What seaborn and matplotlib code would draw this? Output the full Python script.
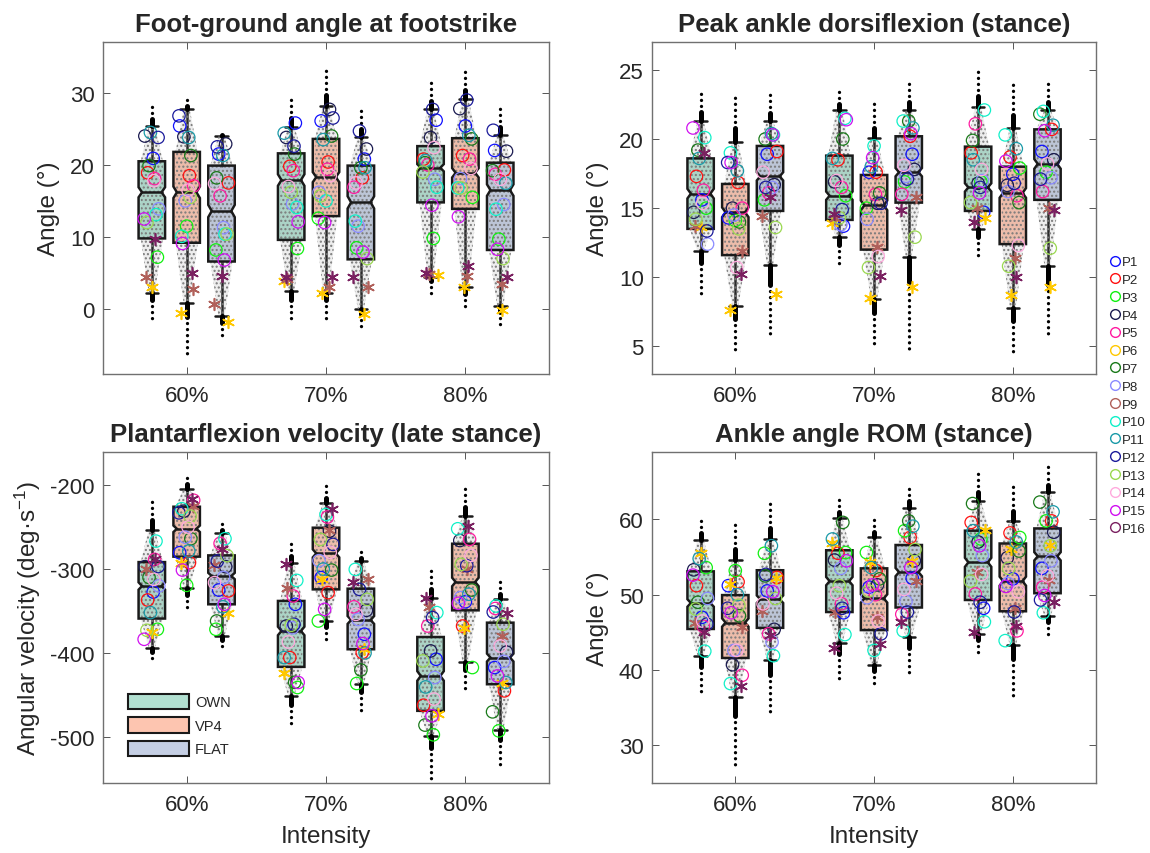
import matplotlib
matplotlib.use("Agg")
import matplotlib.pyplot as plt
from matplotlib.colors import to_rgba
from matplotlib.patches import Polygon, Patch
from matplotlib.lines import Line2D
import numpy as np
import pandas as pd
import seaborn as sns

sns.set_theme(style="white")
plt.rcParams["font.family"] = ["Liberation Sans", "DejaVu Sans"]
plt.rcParams["mathtext.fontset"] = "custom"
plt.rcParams["mathtext.rm"] = "Liberation Sans"
plt.rcParams["mathtext.it"] = "Liberation Sans:italic"
plt.rcParams["hatch.linewidth"] = 1.0
plt.rcParams["axes.unicode_minus"] = False

# ---------------------------------------------------------------- categories
intensities = ["60%", "70%", "80%"]
shoes = ["OWN", "VP4", "FLAT"]
participants = [f"P{i}" for i in range(1, 17)]
participant_colors = ["#1010ff", "#ff1010", "#10f010", "#1a1a50", "#ff1aa0",
                      "#ffc800", "#1a7a1a", "#8a8aff", "#b0605a", "#10f0c8",
                      "#1a9aa8", "#1a1a9a", "#9ad850", "#ffaadd", "#d010f0",
                      "#7a2060"]
star_participants = ["P6", "P9", "P16"]
shoe_colors = ["#66c2a5", "#fc8d62", "#8da0cb"]

# Box summaries, ordered 60/OWN, 60/VP4, 60/FLAT, 70/OWN, ..., 80/FLAT
fga_q1 = [9.8, 9.2, 6.6, 9.6, 12.9, 6.9, 14.8, 13.9, 8.2]
fga_med = [16.2, 16.2, 13.6, 17.9, 18.3, 14.8, 19.6, 18.9, 16.5]
fga_q3 = [20.5, 21.8, 19.9, 21.6, 23.6, 19.9, 22.6, 23.7, 20.3]
fga_wlo = [2.3, 0.9, -1.0, 2.5, 2.3, 0.0, 4.5, 3.0, 0.4]
fga_whi = [25.4, 27.7, 24.0, 25.3, 28.2, 23.9, 27.7, 29.2, 24.2]
fga_min = [-1.4, -6.2, -4.2, -1.8, -1.4, -2.5, 2.1, 0.0, -2.5]
fga_max = [28.6, 29.5, 24.7, 29.8, 33.7, 27.8, 31.9, 33.3, 28.2]
fga_notch = [0.7, 0.8, 0.85, 0.8, 0.7, 0.85, 0.5, 0.65, 0.8]

pad_q1 = [13.5, 11.6, 14.8, 14.15, 12.0, 15.4, 14.8, 12.4, 15.6]
pad_med = [16.05, 14.7, 17.3, 15.9, 15.2, 17.6, 16.5, 16.1, 18.2]
pad_q3 = [18.6, 16.75, 19.5, 18.8, 17.4, 20.2, 19.45, 18.0, 20.7]
pad_wlo = [11.9, 7.9, 10.9, 12.9, 8.4, 11.5, 13.5, 7.8, 10.8]
pad_whi = [21.3, 19.8, 21.3, 22.1, 20.05, 22.1, 22.3, 20.8, 22.1]
pad_min = [8.7, 4.6, 5.6, 10.75, 4.9, 4.8, 11.4, 4.4, 5.9]
pad_max = [23.7, 23.4, 23.3, 23.6, 22.8, 24.3, 25.1, 24.1, 24.1]
pad_notch = [0.35, 0.35, 0.3, 0.3, 0.35, 0.3, 0.3, 0.35, 0.35]

pfv_q1 = [-359, -285.2, -342, -416.6, -324.2, -395.6, -469, -349.2, -437.3]
pfv_med = [-320.2, -252, -308.3, -373.8, -281.3, -360.7, -427.4, -315.4, -405.5]
pfv_q3 = [-291.7, -225.7, -283.7, -338, -250.7, -323.4, -381, -269.8, -363.9]
pfv_wlo = [-393.6, -322, -379.7, -451.2, -361.9, -437.3, -498.8, -410.3, -492]
pfv_whi = [-253, -204.3, -256.7, -292.4, -221, -290.4, -334, -236.9, -336.1]
pfv_min = [-413.5, -352, -398.8, -488.8, -389.6, -471, -550, -447.1, -534.5]
pfv_max = [-213, -184.5, -244, -263.8, -199.2, -275.7, -298.4, -198.4, -312.3]
pfv_notch = [4.4, 3.9, 3.8, 5.1, 4.8, 4.7, 5.7, 5.1, 4.7]

rom_q1 = [45.45, 41.6, 45.6, 47.7, 45.3, 48.3, 49.3, 47.8, 50.2]
rom_med = [48.9, 46.3, 49.4, 51.8, 49.5, 53.0, 54.3, 51.8, 55.1]
rom_q3 = [53.1, 49.95, 53.25, 55.9, 53.5, 56.6, 58.5, 56.8, 58.8]
rom_wlo = [41.9, 36.4, 41.3, 43.6, 40.7, 44.4, 44.8, 43.3, 47.2]
rom_whi = [57.3, 54.6, 57.4, 60.2, 57.6, 61.5, 62.4, 59.8, 63.6]
rom_min = [36.5, 27.4, 34.1, 38.2, 37.5, 39.3, 41.7, 36.6, 44.1]
rom_max = [60.5, 59.8, 62.5, 63.2, 60.0, 64.7, 66.6, 64.4, 67.1]
rom_notch = [0.5, 0.55, 0.5, 0.55, 0.55, 0.55, 0.6, 0.6, 0.55]

# Participant means, one row per condition (same order as above), P1..P16
fga_means = [
    [20.9, 18.9, 7.2, 24.0, 18.1, 3.1, 19.9, 13.9, 4.5, 13.1, 24.5, 23.8, 12.0, 17.8, 12.5, 9.7],
    [25.4, 18.5, 11.5, 23.9, 17.1, -0.5, 21.3, 15.0, 2.8, 10.1, 23.8, 26.8, 15.5, 16.5, 9.1, 5.0],
    [21.5, 17.5, 8.2, 22.9, 15.7, -1.8, 18.2, 11.3, 0.7, 10.4, 21.3, 22.5, 10.4, 17.4, 6.8, 4.6],
    [25.8, 19.8, 8.4, 23.8, 19.2, 3.9, 21.5, 14.6, 4.2, 14.1, 24.4, 22.6, 16.2, 17.0, 12.1, 4.4],
    [26.1, 20.4, 12.6, 27.7, 19.4, 2.2, 24.0, 16.2, 3.0, 15.0, 23.5, 26.5, 15.7, 18.5, 12.0, 4.4],
    [20.8, 18.2, 8.5, 22.2, 16.9, -0.7, 19.6, 11.5, 3.0, 12.2, 19.6, 24.7, 7.0, 17.5, 7.9, 4.4],
    [26.2, 20.8, 9.8, 23.8, 20.0, 4.7, 20.3, 18.0, 4.9, 16.9, 20.6, 27.7, 19.0, 22.4, 14.4, 5.0],
    [25.4, 21.3, 15.5, 27.8, 20.8, 3.1, 23.6, 18.1, 4.6, 16.8, 24.1, 29.0, 16.8, 19.5, 12.8, 6.0],
    [22.0, 19.3, 9.7, 21.9, 18.7, -0.1, 19.2, 14.5, 3.5, 13.85, 17.45, 24.8, 7.0, 18.0, 8.3, 4.5],
]
pad_means = [
    [15.6, 17.3, 15.0, 14.7, 16.3, 13.6, 19.2, 12.4, 13.7, 20.1, 18.6, 13.35, 14.2, 15.35, 20.8, 19.0],
    [14.3, 16.85, 14.1, 15.0, 15.0, 7.6, 14.0, 14.5, 11.9, 19.0, 17.7, 18.3, 13.5, 10.7, 18.3, 10.2],
    [18.9, 19.1, 15.6, 16.7, 16.1, 8.8, 20.0, 16.5, 14.4, 20.3, 20.4, 16.5, 13.6, 17.6, 20.3, 15.8],
    [13.7, 18.5, 15.9, 16.9, 16.5, 13.9, 20.0, 13.8, 14.3, 21.5, 18.6, 14.9, 14.3, 17.0, 21.4, 14.55],
    [17.6, 17.6, 15.0, 15.35, 16.0, 8.5, 16.1, 14.2, 12.2, 19.5, 18.0, 15.35, 10.7, 11.5, 18.65, 10.1],
    [18.9, 20.2, 16.9, 17.8, 16.0, 9.3, 21.3, 17.3, 15.8, 21.3, 20.8, 17.1, 12.9, 18.1, 20.4, 14.9],
    [14.7, 19.0, 16.9, 16.8, 21.1, 14.3, 19.9, 17.0, 15.0, 22.1, 18.5, 16.5, 15.4, 17.8, 16.1, 14.0],
    [17.45, 18.7, 17.9, 16.65, 15.9, 8.7, 15.4, 16.2, 11.4, 20.3, 19.3, 16.8, 10.8, 12.3, 18.4, 10.0],
    [19.1, 20.7, 17.6, 18.5, 16.2, 9.3, 21.8, 17.2, 15.0, 22.0, 21.0, 17.1, 12.1, 18.2, 20.6, 14.85],
]
pfv_means = [
    [-327.4, -336.9, -371.8, -297.2, -288.5, -374.9, -310, -320, -300, -266.7, -351.9, -297, -373, -312.3, -383.7, -288],
    [-280.5, -292.4, -319.4, -231, -218, -293, -263.8, -262, -225, -228.1, -278.5, -233, -236.9, -250, -301.2, -217],
    [-325, -326, -371.8, -297.2, -269.4, -351.9, -361.9, -310, -295, -263.8, -345, -290.5, -284, -316.2, -342, -275.7],
    [-342, -405.5, -441.2, -368, -332.1, -424.2, -435, -370, -322, -313.5, -405.5, -365.8, -367, -386.9, -435.2, -294.4],
    [-310.2, -328.1, -361.9, -254.8, -238, -312, -301.2, -290, -253, -234.9, -300, -270.6, -264.6, -280, -348, -228],
    [-377.7, -399.5, -436.4, -349.2, -345, -394.8, -420.2, -360, -312.3, -300.4, -400, -324.2, -336.1, -354, -388.8, -316],
    [-407.5, -462.3, -497.6, -397.6, -367.9, -473, -486, -429.3, -345, -351.9, -440.5, -357.9, -409.5, -455, -475, -334],
    [-339, -367.9, -417.4, -266, -264.6, -370, -325, -334, -300, -252, -330, -296, -294.4, -283.7, -340.8, -248.8],
    [-417.4, -445.2, -492.9, -399, -347, -436, -470.2, -410, -380, -344, -435.2, -351.2, -365.8, -391.7, -427.4, -352],
]
rom_means = [
    [47.0, 51.2, 53.6, 53.3, 45.8, 55.5, 49.0, 49.5, 46.2, 42.5, 54.8, 46.1, 48.1, 46.5, 52.6, 45.1],
    [51.2, 51.7, 53.2, 40.7, 39.3, 51.4, 47.2, 42.6, 45.7, 38.2, 50.0, 48.2, 48.6, 42.6, 47.6, 37.9],
    [50.5, 52.3, 55.5, 45.4, 44.8, 52.2, 52.5, 43.7, 47.9, 41.9, 56.5, 52.7, 49.5, 48.8, 50.4, 44.6],
    [47.6, 55.5, 55.6, 54.6, 48.8, 56.8, 59.6, 53.5, 47.7, 44.7, 57.4, 48.2, 51.2, 50.2, 54.5, 42.9],
    [51.0, 53.2, 55.6, 51.3, 50.0, 54.4, 52.1, 49.6, 47.0, 42.6, 53.6, 44.8, 50.5, 46.5, 51.3, 43.5],
    [52.2, 57.6, 58.5, 54.5, 47.4, 54.5, 59.8, 49.1, 51.8, 45.2, 59.1, 47.7, 56.0, 50.7, 53.6, 46.4],
    [48.2, 59.6, 57.4, 57.0, 50.1, 58.6, 62.1, 55.2, 53.0, 46.4, 58.5, 49.0, 51.8, 52.7, 56.5, 45.1],
    [52.1, 58.2, 57.6, 54.9, 45.2, 56.1, 55.8, 51.5, 48.2, 43.9, 57.0, 47.7, 53.5, 50.4, 51.1, 45.9],
    [53.5, 59.8, 59.8, 58.3, 51.0, 56.6, 62.3, 54.5, 52.0, 47.6, 61.0, 49.3, 56.5, 52.5, 49.9, 49.0],
]

# ---------------------------------------------------------------- layout
GROUP_OFFSETS = [-0.25, 0.0, 0.25]
BOX_HW = 0.095
NOTCH_HW = 0.07
CLOUD_HW = 0.08
CLOUD_TIP = 0.022
JITTER = [0.01, -0.03, 0.04, -0.05, 0.02, 0.0, -0.02, 0.05,
          -0.04, 0.03, -0.01, 0.045, -0.035, 0.015, -0.055, 0.025]
EDGE = "#1a1a1a"
TEXT = "#262626"


def long_means(means):
    rows = []
    for b, vals in enumerate(means):
        g, s = divmod(b, 3)
        for p, v in enumerate(vals):
            rows.append({"participant": participants[p], "value": v,
                         "x": g + 1 + GROUP_OFFSETS[s] + JITTER[(p + 3 * b) % 16]})
    return pd.DataFrame(rows)


def draw_panel(ax, q1, med, q3, wlo, whi, vmin, vmax, notch, means,
               title, ylabel, ylim, yticks, xlabel=None, ylabelpad=7):
    for b in range(9):
        g, s = divmod(b, 3)
        c = g + 1 + GROUP_OFFSETS[s]
        n = notch[b]
        outline = [(c - BOX_HW, q1[b]), (c - BOX_HW, med[b] - n), (c - NOTCH_HW, med[b]),
                   (c - BOX_HW, med[b] + n), (c - BOX_HW, q3[b]), (c + BOX_HW, q3[b]),
                   (c + BOX_HW, med[b] + n), (c + NOTCH_HW, med[b]),
                   (c + BOX_HW, med[b] - n), (c + BOX_HW, q1[b])]
        # whiskers and caps
        ax.plot([c, c], [q3[b], whi[b]], color=EDGE, lw=1.8, zorder=1.5)
        ax.plot([c, c], [wlo[b], q1[b]], color=EDGE, lw=1.8, zorder=1.5)
        for w in (wlo[b], whi[b]):
            ax.plot([c - 0.045, c + 0.045], [w, w], color=EDGE, lw=1.8, zorder=1.5)
        # box fill
        ax.add_patch(Polygon(outline, closed=True, facecolor=to_rgba(shoe_colors[s], 0.5),
                             edgecolor="none", zorder=2))
        # stride cloud
        cloud = [(c - CLOUD_TIP, wlo[b]), (c - CLOUD_HW, q1[b]), (c - CLOUD_HW, q3[b]),
                 (c - CLOUD_TIP, whi[b]), (c + CLOUD_TIP, whi[b]), (c + CLOUD_HW, q3[b]),
                 (c + CLOUD_HW, q1[b]), (c + CLOUD_TIP, wlo[b])]
        ax.add_patch(Polygon(cloud, closed=True, facecolor=(0.55, 0.55, 0.55, 0.15),
                             edgecolor="#7a7a7a", lw=0, hatch="....", zorder=3))
        # box outline and median
        ax.add_patch(Polygon(outline, closed=True, fill=False, edgecolor=EDGE,
                             lw=1.8, zorder=4))
        ax.plot([c - NOTCH_HW, c + NOTCH_HW], [med[b], med[b]], color=EDGE, lw=1.8, zorder=4)
        # extreme strides beyond the whiskers
        for w, e in ((whi[b], vmax[b]), (wlo[b], vmin[b])):
            mid = w + 0.28 * (e - w)
            ax.plot([c, c], [w, mid], color="black", lw=3.6, zorder=4.5,
                    solid_capstyle="round")
            ax.plot([c, c], [mid, e], color="black", lw=2.4, zorder=4.5,
                    linestyle=(0, (0.01, 1.8)), dash_capstyle="round")

    df = long_means(means)
    for p, col in zip(participants, participant_colors):
        sub = df[df["participant"] == p]
        if p in star_participants:
            sns.scatterplot(data=sub, x="x", y="value", ax=ax, marker=(6, 2, 0),
                            s=70, color=col, edgecolor=col, linewidth=1.2,
                            legend=False, zorder=6)
        else:
            sns.scatterplot(data=sub, x="x", y="value", ax=ax, marker="o",
                            s=80, facecolor="none", edgecolor=col, color=col,
                            linewidth=0.9, legend=False, zorder=6)

    ax.set_xlim(0.4, 3.6)
    ax.set_ylim(*ylim)
    ax.set_xticks([1, 2, 3], intensities)
    ax.set_yticks(yticks)
    ax.set_title(title, fontsize=18.5, fontweight="bold", pad=8)
    ax.set_ylabel(ylabel, fontsize=17.5, color=TEXT, labelpad=ylabelpad)
    ax.set_xlabel(xlabel if xlabel else "", fontsize=17.5, color=TEXT, labelpad=7)
    ax.tick_params(direction="in", length=5, width=0.7, color="#555555",
                   labelsize=16, labelcolor=TEXT,
                   top=True, right=True, bottom=True, left=True)
    ax.tick_params(axis="x", pad=8)
    ax.tick_params(axis="y", pad=6)
    for sp in ax.spines.values():
        sp.set_color("#707070")
        sp.set_linewidth(1.0)


fig = plt.figure(figsize=(11.5, 8.54), dpi=100)
ax1 = fig.add_axes([0.0896, 0.5609, 0.3878, 0.3884])
ax2 = fig.add_axes([0.5670, 0.5609, 0.3861, 0.3884])
ax3 = fig.add_axes([0.0896, 0.0820, 0.3878, 0.3880])
ax4 = fig.add_axes([0.5670, 0.0820, 0.3861, 0.3880])

draw_panel(ax1, fga_q1, fga_med, fga_q3, fga_wlo, fga_whi, fga_min, fga_max, fga_notch,
           fga_means, "Foot-ground angle at footstrike", "Angle (°)", (-9, 37), [0, 10, 20, 30])
draw_panel(ax2, pad_q1, pad_med, pad_q3, pad_wlo, pad_whi, pad_min, pad_max, pad_notch,
           pad_means, "Peak ankle dorsiflexion (stance)", "Angle (°)", (3, 27), [5, 10, 15, 20, 25])
draw_panel(ax3, pfv_q1, pfv_med, pfv_q3, pfv_wlo, pfv_whi, pfv_min, pfv_max, pfv_notch,
           pfv_means, "Plantarflexion velocity (late stance)",
           "Angular velocity (deg·s$^{-1}$)", (-555, -160), [-500, -400, -300, -200],
           xlabel="Intensity", ylabelpad=5)
draw_panel(ax4, rom_q1, rom_med, rom_q3, rom_wlo, rom_whi, rom_min, rom_max, rom_notch,
           rom_means, "Ankle angle ROM (stance)", "Angle (°)", (25, 69), [30, 40, 50, 60],
           xlabel="Intensity")

# shoe legend
shoe_handles = [Patch(facecolor=to_rgba(c, 0.5), edgecolor=EDGE, lw=1.5, label=s)
                for s, c in zip(shoes, shoe_colors)]
ax3.legend(handles=shoe_handles, loc="lower left", bbox_to_anchor=(0.056, 0.08),
           frameon=False, fontsize=10.5, handlelength=4.2, handleheight=1.25,
           labelspacing=0.55, handletextpad=0.4, borderpad=0, borderaxespad=0)

# participant legend
p_handles = [Line2D([], [], ls="", marker="o", mfc="none", mec=c, mew=1.0, ms=7, label=p)
             for p, c in zip(participants, participant_colors)]
fig.legend(handles=p_handles, loc="center left", bbox_to_anchor=(1110 / 1150, 0.5357),
           frameon=False, fontsize=9.5, handlelength=0.7, handletextpad=0.2,
           labelspacing=0.42, borderpad=0, borderaxespad=0)

fig.savefig("out.png", dpi=100)
